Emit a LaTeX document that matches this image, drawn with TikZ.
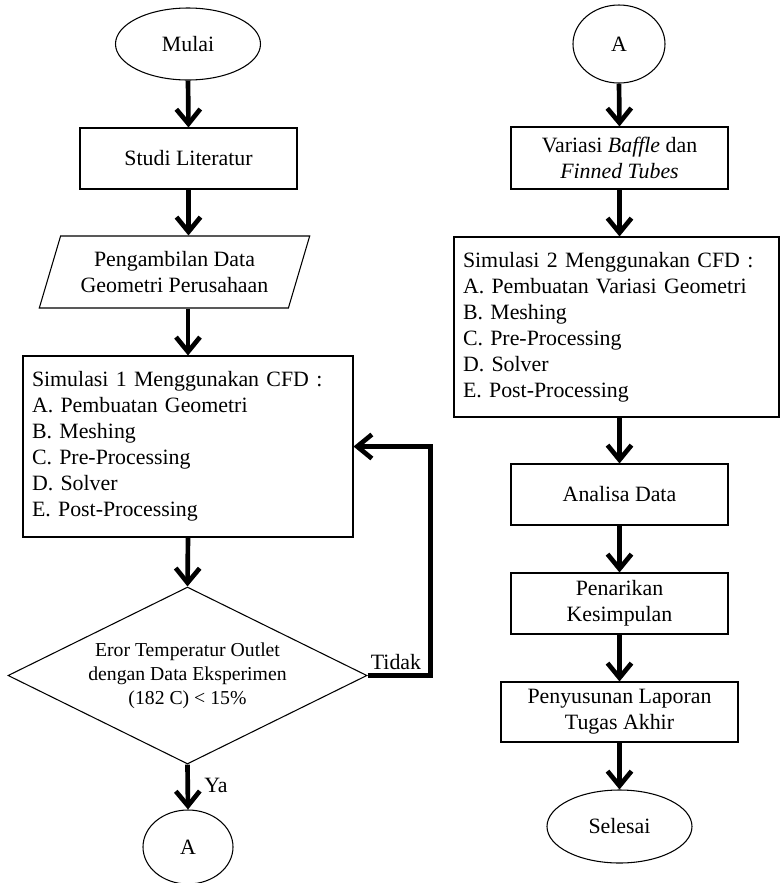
\documentclass[tikz,border=0pt]{standalone}
\usepackage{fontspec}
\setmainfont{Liberation Serif}
\usetikzlibrary{shapes.geometric, arrows.meta}

\begin{document}
\begin{tikzpicture}[x=0.75pt, y=-0.75pt,
    every node/.style={font=\fontsize{16.4}{19.5}\selectfont},
    box/.style={draw, line width=0.8pt, align=center, inner sep=2pt},
    oval/.style={draw, ellipse, line width=0.8pt, inner sep=1pt},
    data/.style={draw, trapezium, trapezium left angle=68, trapezium right angle=112,
        trapezium stretches=true, line width=0.8pt, align=center, inner sep=1pt},
    cond/.style={draw, diamond, aspect=2, line width=0.8pt, align=center, inner sep=1pt,
        font=\fontsize{14.8}{18}\selectfont},
    arr/.style={line width=3.5pt, -{Straight Barb[length=11pt, width=18pt]}}]

    \useasboundingbox (0,0) rectangle (780,883);

    % Left column
    \node[oval, minimum width=108.75pt, minimum height=54pt] (mulai) at (188,44) {Mulai};
    \node[box, minimum width=162.75pt, minimum height=45.75pt] (studi) at (188.5,158.5) {Studi Literatur};
    \node[data, minimum width=203.25pt, minimum height=54pt] (ambil) at (174.5,272) {Pengambilan Data\\Geometri Perusahaan};
    \node[box, align=left, text width=234pt, inner sep=6.75pt, minimum height=135.75pt] (sim1) at (188,446.5)
        {Simulasi 1 Menggunakan CFD :\\A. Pembuatan Geometri\\B. Meshing\\C. Pre-Processing\\D. Solver\\E. Post-Processing};
    \node[cond, minimum width=269.25pt, minimum height=132.75pt] (cek) at (187.5,675.5)
        {Eror Temperatur Outlet\\dengan Data Eksperimen\\(182 C) < 15\%};
    \node[oval, minimum width=67.5pt, minimum height=55.5pt] (a1) at (188,847) {A};

    \draw[arr] (mulai.south) -- (studi.north);
    \draw[arr] (studi.south) -- (studi.south |- ambil.north);
    \draw[arr] (ambil.south -| sim1.north) -- (sim1.north);
    \draw[arr] (sim1.south) -- (cek.north);
    \draw[arr] (cek.east) -- ++(63,0) |- (sim1.east);
    \draw[arr] (cek.south) -- (a1.north);

    % Labels
    \node (tidak) at (396,662) {Tidak};
    \node (ya) at (216,785) {Ya};

    % Right column
    \node[oval, minimum width=69pt, minimum height=58.5pt] (a2) at (619,44) {A};
    \node[box, minimum width=162.75pt, minimum height=46.5pt] (variasi) at (619.5,158) {Variasi \textit{Baffle} dan\\\textit{Finned Tubes}};
    \node[box, align=left, text width=230.25pt, inner sep=6.75pt, minimum height=135pt] (sim2) at (616.5,327)
        {Simulasi 2 Menggunakan CFD :\\A. Pembuatan Variasi Geometri\\B. Meshing\\C. Pre-Processing\\D. Solver\\E. Post-Processing};
    \node[box, minimum width=162.75pt, minimum height=45.75pt] (analisa) at (619.5,494.5) {Analisa Data};
    \node[box, minimum width=162.75pt, minimum height=45.75pt] (tarik) at (619.5,603.5) {Penarikan\\Kesimpulan};
    \node[box, minimum width=177.75pt, minimum height=45pt] (susun) at (619.5,712) {Penyusunan Laporan\\Tugas Akhir};
    \node[oval, minimum width=108.75pt, minimum height=54.75pt] (selesai) at (619.5,826.5) {Selesai};

    \draw[arr] (a2.south) -- (variasi.north);
    \draw[arr] (variasi.south) -- (variasi.south |- sim2.north);
    \draw[arr] (variasi.south |- sim2.south) -- (analisa.north);
    \draw[arr] (analisa.south) -- (tarik.north);
    \draw[arr] (tarik.south) -- (susun.north);
    \draw[arr] (susun.south) -- (selesai.north);

\end{tikzpicture}
\end{document}
